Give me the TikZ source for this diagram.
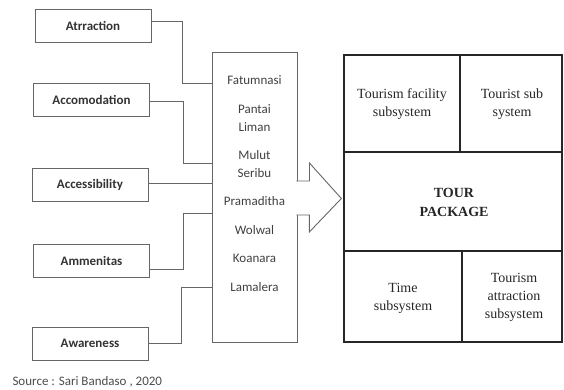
\documentclass[tikz,border=0pt]{standalone}
\usepackage{fontspec}
\setmainfont{Liberation Serif}
\newfontfamily\calibri{Carlito}
\usetikzlibrary{calc}

\begin{document}
\begin{tikzpicture}[x=1pt, y=-1pt,
    factor/.style={draw=black!60, line width=0.9pt, minimum width=116pt, minimum height=33pt,
      font=\calibri\bfseries\fontsize{13}{15}\selectfont, text=black!80},
    link/.style={draw=black!60, line width=0.9pt},
    place/.style={font=\calibri\fontsize{13}{18}\selectfont, text=black!75, align=center, inner sep=0pt},
    sub/.style={font=\fontsize{14}{18}\selectfont, text=black!85, align=center, inner sep=0pt},
    grid line/.style={draw=black!85, line width=1.3pt}]
  \useasboundingbox (0,0) rectangle (564,389);
  % factors on the left
  \node[factor] (atr) at (93,25.5) {Atrraction};
  \node[factor] (acm) at (91.5,99.5) {Accomodation};
  \node[factor] (acc) at (90,184.5) {Accessibility};
  \node[factor] (amm) at (91.5,260.5) {Ammenitas};
  \node[factor] (awa) at (90,343.5) {Awareness};
  % destinations
  \node[draw=black!60, line width=0.9pt, minimum width=85pt, minimum height=290pt] (list) at (254.5,197) {};
  \foreach \name/\txt/\y in {fat/Fatumnasi/80, pan/{Pantai\\Liman}/118, mul/{Mulut\\Seribu}/164,
      pra/Pramaditha/201, wol/Wolwal/230, koa/Koanara/258, lam/Lamalera/287}{
    \node[place] (\name) at (list.center |- 0,\y) {\txt};
  }
  \foreach \f/\out/\bend/\in in {atr/21/182/83, acm/101/183/163, amm/269/183/213, awa/343/181/287}{
    \draw[link] (\f.east |- 0,\out) -| (\bend,\in) -- (list.west |- 0,\in);
  }
  \draw[link] (acc.east |- 0,183) -- (list.west |- 0,183);
  % tour package
  \node[grid line, minimum width=218pt, minimum height=287pt] (grid) at (453,198.5) {};
  \draw[grid line] (grid.west |- 0,152) -- (grid.east |- 0,152);
  \draw[grid line] (grid.west |- 0,251) -- (grid.east |- 0,251);
  \draw[grid line] (grid.north -| 460,0) -- (460,152);
  \draw[grid line] (grid.south -| 462,0) -- (462,251);
  \node[sub] (fac) at (402,104) {Tourism facility\\subsystem};
  \node[sub] (tsub) at (512,104) {Tourist sub\\system};
  \node[sub, font=\bfseries\fontsize{14}{19}\selectfont] (pkg) at (454,202) {TOUR\\PACKAGE};
  \node[sub] (time) at (403,298) {Time\\subsystem};
  \node[sub] (attr) at (514,297) {Tourism\\attraction\\subsystem};
  % arrow
  \coordinate (tip) at ($(grid.west)+(-2,0)$);
  \filldraw[link, fill=white] ($(list.east)+(-1,-16)$) -- ++(13,0) -- ++(0,-18) -- (tip)
    -- ($(tip)+(-32,33.5)$) -- ++(0,-17) -- ($(list.east)+(-1,18)$);
  \node[font=\calibri\fontsize{13}{15}\selectfont, text=black!70, anchor=west] (src) at (9,382) {Source : Sari Bandaso , 2020};
\end{tikzpicture}
\end{document}
